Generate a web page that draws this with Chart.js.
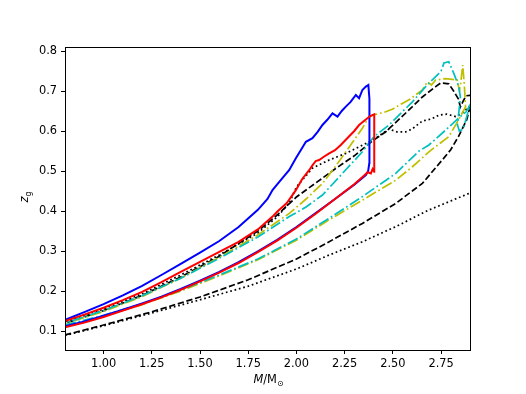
<!DOCTYPE html>
<html>
<head>
<meta charset="utf-8">
<script src="https://cdn.jsdelivr.net/npm/chart.js@4/dist/chart.umd.min.js"></script>
<style>
  html, body { margin: 0; padding: 0; background: #fff; }
</style>
</head>
<body>
<canvas id="c" width="526" height="394"></canvas>
<script>
const xTicks = [1.0, 1.25, 1.5, 1.75, 2.0, 2.25, 2.5, 2.75]
const yTicks = [0.1, 0.2, 0.3, 0.4, 0.5, 0.6, 0.7, 0.8]

// blue: lower branch out, jump up, upper branch back
const blueM = [0.8, 0.9, 1.0, 1.1, 1.2, 1.3, 1.4, 1.5, 1.6, 1.7, 1.8, 1.9, 2.0, 2.1, 2.2, 2.3, 2.36,
  2.372, 2.378, 2.38, 2.377, 2.373,
  2.36, 2.342, 2.325, 2.308, 2.28, 2.256, 2.235, 2.213, 2.187, 2.16, 2.135, 2.11, 2.083, 2.049, 2.02, 1.997,
  1.963, 1.911, 1.876, 1.85, 1.8, 1.7, 1.6, 1.5, 1.4, 1.3, 1.2, 1.1, 1.0, 0.9, 0.8]
const blueZ = [0.112, 0.124, 0.138, 0.153, 0.169, 0.186, 0.205, 0.226, 0.248, 0.272, 0.299, 0.328, 0.36, 0.395, 0.43, 0.466, 0.49,
  0.5, 0.52, 0.6, 0.68, 0.715,
  0.711, 0.7025, 0.682, 0.69, 0.672, 0.661, 0.65, 0.636, 0.644, 0.628, 0.615, 0.598, 0.582, 0.573, 0.55, 0.532,
  0.5025, 0.473, 0.4525, 0.43, 0.403, 0.36, 0.325, 0.296, 0.268, 0.24, 0.213, 0.189, 0.167, 0.147, 0.128]

const redM = [0.8, 0.9, 1.0, 1.1, 1.2, 1.3, 1.4, 1.5, 1.6, 1.7, 1.8, 1.9, 2.0, 2.1, 2.2, 2.3, 2.35, 2.37, 2.386, 2.395, 2.403,
  2.404, 2.403,
  2.385, 2.368, 2.35, 2.325, 2.3, 2.29, 2.256, 2.23, 2.2, 2.17, 2.14, 2.118, 2.1, 2.083, 2.066, 2.03, 1.997, 1.95,
  1.9, 1.876, 1.8, 1.7, 1.6, 1.5, 1.4, 1.3, 1.2, 1.1, 1.0, 0.9, 0.8]
const redZ = [0.109, 0.121, 0.135, 0.151, 0.167, 0.184, 0.203, 0.224, 0.246, 0.27, 0.297, 0.326, 0.358, 0.393, 0.43, 0.467, 0.488, 0.497, 0.494, 0.505, 0.498,
  0.56, 0.642,
  0.638, 0.632, 0.625, 0.615, 0.6, 0.595, 0.578, 0.565, 0.552, 0.544, 0.535, 0.5275, 0.525, 0.514, 0.502, 0.48, 0.452, 0.42,
  0.398, 0.386, 0.354, 0.323, 0.298, 0.273, 0.248, 0.222, 0.198, 0.177, 0.158, 0.141, 0.125]

const cyanM = [0.8, 1.0, 1.2, 1.4, 1.6, 1.8, 2.0, 2.17, 2.342, 2.515, 2.636, 2.687, 2.774, 2.84, 2.88, 2.9,
  2.865, 2.845, 2.835, 2.845, 2.85, 2.842, 2.816, 2.79, 2.765, 2.75, 2.739, 2.67, 2.6, 2.549, 2.48, 2.4, 2.342,
  2.25, 2.17, 2.135, 2.05, 1.963, 1.8, 1.6, 1.4, 1.2, 1.0, 0.8]
const cyanZ = [0.115, 0.139, 0.168, 0.202, 0.24, 0.28, 0.33, 0.382, 0.436, 0.494, 0.55, 0.565, 0.6025, 0.632, 0.648, 0.665,
  0.605, 0.6, 0.615, 0.66, 0.685, 0.711, 0.744, 0.773, 0.77, 0.75, 0.744, 0.711, 0.672, 0.648, 0.615, 0.585, 0.548,
  0.5, 0.458, 0.44, 0.41, 0.386, 0.335, 0.282, 0.232, 0.188, 0.151, 0.12]

const yellowM = [0.8, 1.0, 1.2, 1.4, 1.6, 1.8, 2.0, 2.17, 2.342, 2.515, 2.6, 2.687, 2.79, 2.84, 2.877,
  2.87, 2.862, 2.852, 2.845, 2.834, 2.774, 2.722, 2.7, 2.679, 2.653, 2.584, 2.549, 2.5, 2.463, 2.43, 2.4, 2.377,
  2.342, 2.3, 2.256, 2.2, 2.135, 2.05, 1.963, 1.8, 1.6, 1.4, 1.2, 1.0, 0.8]
const yellowZ = [0.112, 0.137, 0.166, 0.2, 0.238, 0.278, 0.327, 0.378, 0.427, 0.477, 0.51, 0.548, 0.586, 0.627, 0.66,
  0.72, 0.765, 0.72, 0.7, 0.7275, 0.731, 0.7275, 0.715, 0.723, 0.7025, 0.678, 0.669, 0.655, 0.648, 0.644, 0.64, 0.636,
  0.607, 0.578, 0.548, 0.51, 0.469, 0.43, 0.394, 0.34, 0.284, 0.232, 0.186, 0.149, 0.118]

const dashedM = [0.8, 1.0, 1.25, 1.5, 1.75, 2.0, 2.15, 2.342, 2.515, 2.653, 2.756, 2.8, 2.84, 2.883, 2.9, 2.92,
  2.92, 2.88, 2.865, 2.85, 2.84, 2.815, 2.79, 2.748, 2.722, 2.653, 2.567, 2.463, 2.394, 2.3, 2.2, 2.1, 2.0, 1.9,
  1.8, 1.6, 1.4, 1.2, 1.0, 0.8]
const dashedZ = [0.09, 0.115, 0.148, 0.185, 0.228, 0.28, 0.318, 0.369, 0.419, 0.469, 0.5275, 0.553, 0.586, 0.628, 0.66, 0.7,
  0.69, 0.688, 0.675, 0.66, 0.68, 0.7, 0.718, 0.72, 0.711, 0.685, 0.645, 0.598, 0.575, 0.538, 0.505, 0.47, 0.435, 0.39,
  0.35, 0.287, 0.235, 0.189, 0.151, 0.119]

const dottedM = [0.8, 1.0, 1.25, 1.5, 1.75, 2.0, 2.17, 2.342, 2.515, 2.687, 2.9, 2.93,
  2.93, 2.9, 2.86, 2.826, 2.78, 2.739, 2.7, 2.653, 2.6, 2.567, 2.52, 2.48, 2.42, 2.377, 2.256, 2.17, 2.083, 2.0,
  1.963, 1.9, 1.8, 1.6, 1.4, 1.2, 1.0, 0.8]
const dottedZ = [0.089, 0.113, 0.145, 0.178, 0.212, 0.255, 0.29, 0.323, 0.361, 0.4025, 0.445, 0.45,
  0.67, 0.663, 0.645, 0.636, 0.642, 0.64, 0.63, 0.625, 0.605, 0.598, 0.598, 0.605, 0.585, 0.573, 0.544, 0.5275, 0.507, 0.46,
  0.42, 0.385, 0.345, 0.29, 0.24, 0.193, 0.155, 0.123]

const pts = (m, z) => m.map((v, i) => ({ x: v, y: z[i] }))
const line = (label, m, z, color, width, dash) => ({
  label,
  data: pts(m, z),
  showLine: true,
  borderColor: color,
  borderWidth: width,
  borderDash: dash,
  pointRadius: 0,
  fill: false,
  tension: 0
})

const font = { family: 'DejaVu Sans', size: 11.4 }

// frame round the plot and the two axis titles
const decor = {
  id: 'decor',
  afterDraw (chart) {
    const { ctx, chartArea: a } = chart
    ctx.save()
    ctx.strokeStyle = '#000'
    ctx.lineWidth = 1
    ctx.strokeRect(a.left + 0.5, a.top + 0.5, a.right - a.left, a.bottom - a.top)
    ctx.fillStyle = '#000'
    ctx.textBaseline = 'alphabetic'

    // x title: M/M_sun
    const cx = (a.left + a.right) / 2 + 1
    ctx.font = 'oblique 11.4px "DejaVu Sans"'
    const wM = ctx.measureText('M').width
    ctx.font = '11.4px "DejaVu Sans"'
    const wR = ctx.measureText('/M').width
    ctx.font = '8px "DejaVu Sans"'
    const wS = ctx.measureText('\u2299').width
    const x0 = cx - (wM + wR + wS) / 2
    const yb = 383
    ctx.font = 'oblique 11.4px "DejaVu Sans"'
    ctx.fillText('M', x0, yb)
    ctx.font = '11.4px "DejaVu Sans"'
    ctx.fillText('/M', x0 + wM, yb)
    ctx.font = '8px "DejaVu Sans"'
    ctx.fillText('\u2299', x0 + wM + wR, yb + 2.5)

    // y title: z_g
    ctx.translate(28, 197)
    ctx.rotate(-Math.PI / 2)
    ctx.font = 'oblique 11.4px "DejaVu Sans"'
    const wz = ctx.measureText('z').width
    ctx.font = '8px "DejaVu Sans"'
    const wg = ctx.measureText('g').width
    const s = -(wz + wg) / 2
    ctx.font = 'oblique 11.4px "DejaVu Sans"'
    ctx.fillText('z', s, 0)
    ctx.font = '8px "DejaVu Sans"'
    ctx.fillText('g', s + wz, 2.5)
    ctx.restore()
  }
}

new Chart(document.getElementById('c'), {
  type: 'scatter',
  data: {
    datasets: [
      line('red', redM, redZ, '#ff0000', 2, []),
      line('blue', blueM, blueZ, '#0000ff', 2, []),
      line('cyan', cyanM, cyanZ, '#00bfbf', 1.7, [11, 2.8, 1.7, 2.8]),
      line('yellow', yellowM, yellowZ, '#bfbf00', 1.7, [11, 2.8, 1.7, 2.8]),
      line('dashed', dashedM, dashedZ, '#000000', 1.7, [6.3, 2.7]),
      line('dotted', dottedM, dottedZ, '#000000', 1.7, [1.7, 2.8])
    ]
  },
  options: {
    responsive: false,
    animation: false,
    devicePixelRatio: 1,
    layout: { padding: { top: 47, right: 56, left: 0, bottom: 0 } },
    plugins: {
      legend: { display: false },
      tooltip: { enabled: false }
    },
    scales: {
      x: {
        type: 'linear',
        min: 0.8,
        max: 2.9,
        afterFit: (scale) => { scale.height = 44 },
        afterBuildTicks: (scale) => { scale.ticks = xTicks.map(v => ({ value: v })) },
        grid: { drawOnChartArea: false, drawTicks: true, tickLength: 4, color: '#000' },
        border: { display: false },
        ticks: {
          color: '#000',
          font,
          padding: 3,
          maxRotation: 0,
          autoSkip: false,
          callback: (v) => Number(v).toFixed(2)
        }
      },
      y: {
        type: 'linear',
        min: 0.0525,
        max: 0.81,
        afterFit: (scale) => { scale.width = 65 },
        afterBuildTicks: (scale) => { scale.ticks = yTicks.map(v => ({ value: v })) },
        grid: { drawOnChartArea: false, drawTicks: true, tickLength: 4, color: '#000' },
        border: { display: false },
        ticks: {
          color: '#000',
          font,
          padding: 4,
          autoSkip: false,
          callback: (v) => Number(v).toFixed(1)
        }
      }
    }
  },
  plugins: [decor]
})
</script>
</body>
</html>
